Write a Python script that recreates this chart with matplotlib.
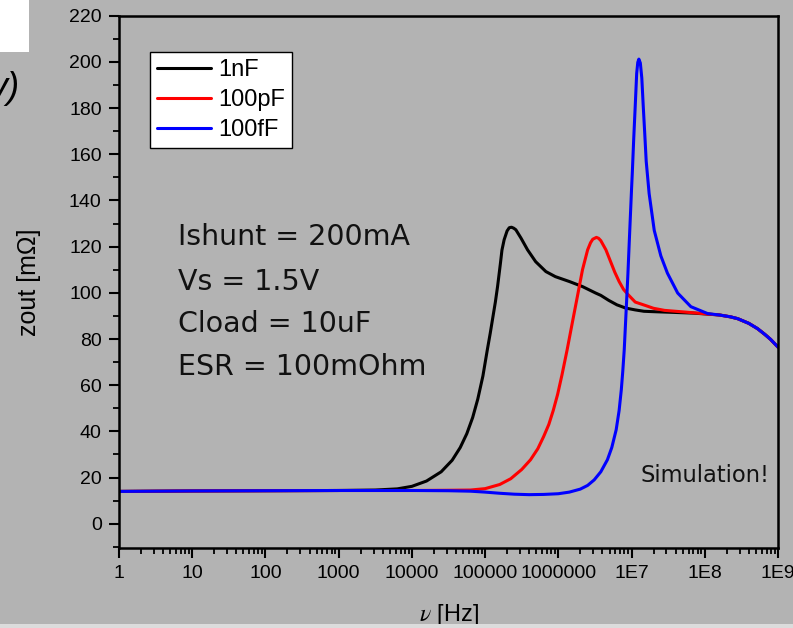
import numpy as np
import matplotlib
matplotlib.use("Agg")
import matplotlib.pyplot as plt
from matplotlib.patches import Rectangle
from matplotlib.ticker import LogLocator, MultipleLocator, NullFormatter

plt.rcParams['mathtext.fontset'] = 'stix'

# ---------------- data (log10 of frequency in Hz, zout in mOhm) ----------------
black_logf = [0, 1, 2, 3, 3.5, 3.8, 4.0, 4.2, 4.4, 4.55, 4.66, 4.75, 4.83, 4.9, 4.97,
              5.03, 5.07, 5.10, 5.14, 5.17, 5.21, 5.23, 5.26, 5.30, 5.33, 5.36, 5.39,
              5.42, 5.49, 5.58, 5.69, 5.83, 5.96, 6.15, 6.33, 6.51, 6.58, 6.69, 6.80,
              6.92, 7.05, 7.17, 7.33, 7.6, 7.85, 8.04, 8.2, 8.35, 8.45, 8.6, 8.72, 8.82,
              8.9, 8.96, 9.0]
black_z = [14.0, 14.2, 14.3, 14.4, 14.6, 15.1, 16.2, 18.5, 22.5, 27.5, 33.0, 39.0, 46.0,
           54.0, 64.0, 75.3, 82.5, 88.3, 96.0, 102.7, 113.0, 118.5, 123.0, 126.8, 128.2,
           128.4, 128.0, 127.3, 123.7, 118.6, 113.5, 109.2, 107.0, 104.9, 102.7, 99.9,
           98.9, 96.7, 94.8, 93.4, 92.6, 92.0, 91.8, 91.5, 91.2, 90.8, 90.4, 89.6, 88.8,
           86.8, 84.5, 82.0, 79.8, 77.8, 76.5]

red_logf = [0, 1, 2, 3, 4, 4.5, 4.8, 5.0, 5.2, 5.35, 5.5, 5.62, 5.72, 5.8, 5.87, 5.93,
            5.99, 6.05, 6.12, 6.19, 6.26, 6.33, 6.40, 6.44, 6.47, 6.52, 6.55, 6.58, 6.65,
            6.72, 6.77, 6.83, 6.89, 6.95, 7.05, 7.20, 7.30, 7.45, 7.72, 8.04, 8.2, 8.35,
            8.45, 8.6, 8.72, 8.82, 8.9, 8.96, 9.0]
red_z = [14.0, 14.2, 14.3, 14.4, 14.4, 14.5, 14.6, 15.2, 17.0, 19.5, 23.5, 27.7, 32.5,
         37.8, 43.0, 49.0, 56.0, 64.5, 75.3, 86.9, 98.4, 110.0, 118.6, 121.7, 123.2,
         124.0, 123.6, 122.6, 118.6, 113.0, 109.0, 104.9, 101.5, 99.3, 96.0, 94.4, 93.3,
         92.4, 91.7, 90.8, 90.4, 89.6, 88.8, 86.8, 84.5, 82.0, 79.8, 77.8, 76.5]

blue_logf = [0, 1, 2, 3, 4, 4.5, 4.8, 5.0, 5.2, 5.4, 5.6, 5.8, 6.0, 6.15, 6.3, 6.4, 6.49,
             6.58, 6.67, 6.73, 6.79, 6.83, 6.86, 6.88, 6.90, 6.92, 6.95, 6.97, 7.00, 7.01,
             7.03, 7.05, 7.07, 7.085, 7.10, 7.12, 7.14, 7.16, 7.18, 7.20, 7.24, 7.31, 7.40,
             7.49, 7.63, 7.81, 8.04, 8.2, 8.35, 8.45, 8.6, 8.72, 8.82, 8.9, 8.96, 9.0]
blue_z = [14.0, 14.2, 14.3, 14.4, 14.4, 14.3, 14.1, 13.7, 13.2, 12.8, 12.6, 12.7, 13.0,
          13.7, 15.0, 16.6, 19.0, 22.5, 27.7, 33.0, 40.7, 49.0, 58.0, 66.0, 75.3, 88.3,
          108.0, 123.0, 145.0, 151.8, 167.0, 180.8, 195.0, 199.8, 201.2, 199.5, 193.0,
          180.6, 169.0, 157.0, 143.0, 127.0, 116.0, 108.5, 99.9, 94.0, 91.0, 90.4, 89.6,
          88.8, 86.8, 84.5, 82.0, 79.8, 77.8, 76.5]

series_labels = ["1nF", "100pF", "100fF"]
series_colors = ["#000000", "#ff0000", "#0000ff"]

xtick_values = [1, 10, 100, 1000, 1e4, 1e5, 1e6, 1e7, 1e8, 1e9]
xtick_labels = ["1", "10", "100", "1000", "10000", "100000", "1000000", "1E7", "1E8", "1E9"]
ytick_values = list(range(0, 221, 20))

annotation_lines = ["Ishunt = 200mA", "Vs = 1.5V", "Cload = 10uF", "ESR = 100mOhm"]

# ---------------- figure ----------------
W, H = 793, 628
fig = plt.figure(figsize=(W / 100, H / 100), dpi=100)
bg = "#b3b3b3"
fig.patch.set_facecolor(bg)

def fx(px):
    return px / W

def fy(py):
    return 1 - py / H

ax = fig.add_axes([fx(119), fy(548), fx(778) - fx(119), fy(15.7) - fy(548)])
ax.set_facecolor(bg)

for lf, z, lab, col in zip([black_logf, red_logf, blue_logf], [black_z, red_z, blue_z],
                           series_labels, series_colors):
    ax.plot(10 ** np.array(lf), z, color=col, lw=2.2, label=lab,
            solid_joinstyle='round', solid_capstyle='round')

ax.set_xscale('log')
ax.set_xlim(1, 1e9)
ax.set_ylim(-10.5, 220)
ax.set_xticks(xtick_values)
ax.set_xticklabels(xtick_labels)
ax.xaxis.set_minor_locator(LogLocator(base=10, subs=np.arange(2, 10)))
ax.xaxis.set_minor_formatter(NullFormatter())
ax.set_yticks(ytick_values)
ax.yaxis.set_minor_locator(MultipleLocator(10))

for s in ax.spines.values():
    s.set_linewidth(1.8)
ax.tick_params(which='major', direction='out', length=7.5, width=1.5, labelsize=14,
               pad=5, top=False, right=False)
ax.tick_params(which='minor', direction='out', length=4, width=1.3, top=False, right=False)
for lbl in ax.get_xticklabels() + ax.get_yticklabels():
    lbl.set_family('Liberation Sans')

ax.set_ylabel("zout [mΩ]", family='Liberation Sans', fontsize=18, labelpad=20)
ax.set_xlabel(r"$\nu$ [Hz]", family='Liberation Sans', fontsize=17, labelpad=14)

leg = ax.legend(loc='upper left', bbox_to_anchor=(0.047, 0.9324), frameon=True,
                fancybox=False, framealpha=1, edgecolor='black', borderpad=0.3,
                handlelength=2.3, handletextpad=0.3, labelspacing=0.35,
                borderaxespad=0, prop={'family': 'Liberation Sans', 'size': 17})
leg.get_frame().set_linewidth(1.0)
for line in leg.get_lines():
    line.set_linewidth(2.2)

# annotations
baselines = [245, 290, 332, 375]
for txt, b in zip(annotation_lines, baselines):
    fig.text(fx(178), fy(b), txt, fontsize=20.5, family='DejaVu Sans', va='baseline',
             ha='left', color='#111111')

fig.text(fx(770), fy(481.5), "Simulation!", fontsize=16.3, family='DejaVu Sans',
         va='baseline', ha='right', color='#111111')

# slide remnants
fig.patches.append(Rectangle((0, fy(52)), fx(29), 1 - fy(52), transform=fig.transFigure,
                             facecolor='white', edgecolor='none', zorder=0))
fig.text(fx(19), fy(98), "v)", fontsize=26, family='Liberation Sans', style='italic',
         ha='right', va='baseline')
fig.patches.append(Rectangle((0, 0), 1, fy(624), transform=fig.transFigure,
                             facecolor='#dcdcdc', edgecolor='none', zorder=10))

fig.savefig("out.png", dpi=100, facecolor=fig.get_facecolor())
